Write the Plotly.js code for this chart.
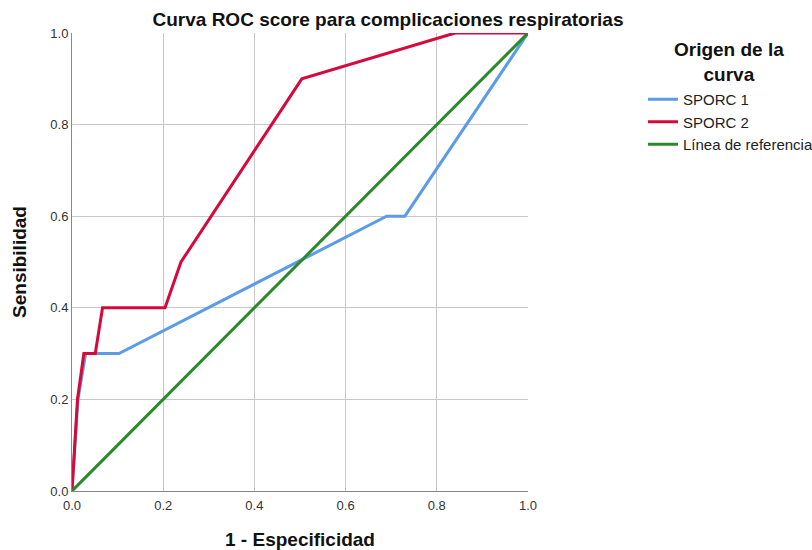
<!DOCTYPE html>
<html>
<head>
<meta charset="utf-8">
<script src="https://cdn.plot.ly/plotly-3.0.1.min.js"></script>
<style>html,body{margin:0;padding:0;background:#fff}#chart{width:812px;height:550px}</style>
</head>
<body>
<div id="chart"></div>
<script>
const sporc1X = [0, 0.013, 0.03, 0.103, 0.69, 0.73, 1.0];
const sporc1Y = [0, 0.2, 0.3, 0.3, 0.6, 0.6, 1.0];
const sporc2X = [0, 0.012, 0.026, 0.051, 0.067, 0.204, 0.239, 0.504, 0.84, 1.0];
const sporc2Y = [0, 0.2, 0.3, 0.3, 0.4, 0.4, 0.5, 0.9, 1.0, 1.0];
const refX = [0, 1];
const refY = [0, 1];
const tickVals = [0, 0.2, 0.4, 0.6, 0.8, 1.0];
const tickText = ['0.0', '0.2', '0.4', '0.6', '0.8', '1.0'];

const font = 'Liberation Sans, Arial, sans-serif';
const traces = [
  {x: sporc1X, y: sporc1Y, name: 'SPORC 1', mode: 'lines', line: {color: '#5b9be8', width: 3}},
  {x: sporc2X, y: sporc2Y, name: 'SPORC 2', mode: 'lines', line: {color: '#d6093d', width: 3}},
  {x: refX, y: refY, name: 'Línea de referencia', mode: 'lines', line: {color: '#2a8a2a', width: 3}}
];
const axisCommon = {
  range: [0, 1], tickvals: tickVals, ticktext: tickText,
  showgrid: true, gridcolor: '#c8c8c8', gridwidth: 1,
  zeroline: false, showline: true, linecolor: '#888', linewidth: 1,
  ticks: '', tickfont: {family: font, size: 13, color: '#333'}, fixedrange: true, automargin: false
};
const layout = {
  width: 812, height: 550,
  margin: {l: 72, r: 284, t: 33, b: 59, autoexpand: false},
  paper_bgcolor: '#fff', plot_bgcolor: '#fff',
  font: {family: font, color: '#000'},
  title: {text: '<b>Curva ROC score para complicaciones respiratorias</b>', font: {family: font, size: 19, color: '#111'},
          xref: 'container', x: 388 / 812, xanchor: 'center', yref: 'container', y: 1 - 19 / 550, yanchor: 'middle'},
  xaxis: Object.assign({}, axisCommon, {ticklabelstandoff: 2, title: {text: '<b>1 - Especificidad</b>', font: {family: font, size: 19, color: '#111'}, standoff: 26}}),
  yaxis: Object.assign({}, axisCommon, {title: {text: '<b>Sensibilidad</b>', font: {family: font, size: 19, color: '#111'}, standoff: 18}}),
  legend: {
    xref: 'container', yref: 'container',
    x: 643 / 812, xanchor: 'left', y: 1 - 83 / 550, yanchor: 'top',
    font: {family: font, size: 15, color: '#222'},
    tracegroupgap: 0, itemwidth: 30, bgcolor: 'rgba(0,0,0,0)'
  },
  annotations: [{
    text: '<b>Origen de la<br>curva</b>', xref: 'paper', yref: 'paper',
    x: (729 - 72) / 456, y: 1 - (62 - 33) / 458, xanchor: 'center', yanchor: 'middle',
    showarrow: false, align: 'center', font: {family: font, size: 19, color: '#111'}
  }],
  showlegend: true
};
Plotly.newPlot('chart', traces, layout, {displayModeBar: false, staticPlot: true});
</script>
</body>
</html>
